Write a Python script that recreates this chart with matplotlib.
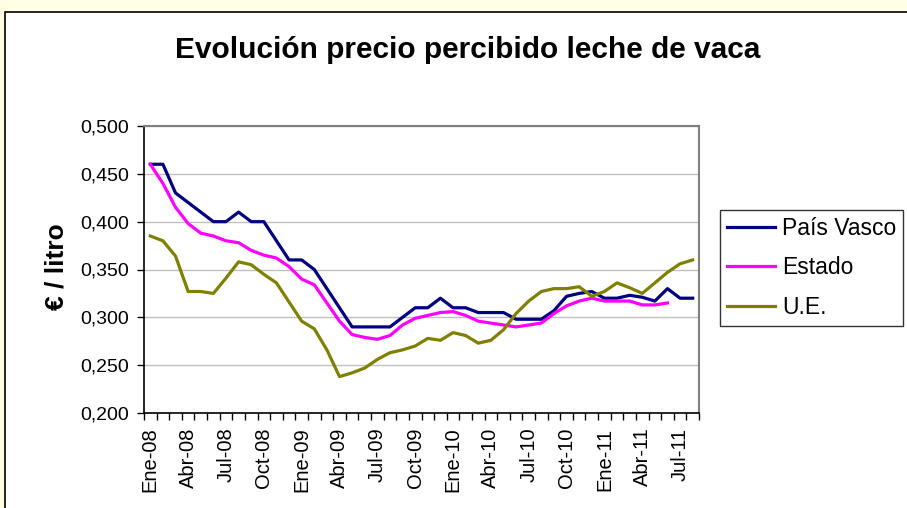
import matplotlib
matplotlib.use("Agg")
import matplotlib.pyplot as plt
from matplotlib.patches import Rectangle

plt.rcParams['font.family'] = ['Liberation Sans', 'DejaVu Sans']

# meses Ene-08 .. Ago-11
meses = ['Ene', 'Feb', 'Mar', 'Abr', 'May', 'Jun',
         'Jul', 'Ago', 'Sep', 'Oct', 'Nov', 'Dic']
anios = ['08', '09', '10', '11']
n_meses = 44

pais_vasco = [0.460, 0.460, 0.430, 0.420, 0.410, 0.400, 0.400, 0.410, 0.400, 0.400, 0.380, 0.360,
              0.360, 0.350, 0.330, 0.310, 0.290, 0.290, 0.290, 0.290, 0.300, 0.310, 0.310, 0.320,
              0.310, 0.310, 0.305, 0.305, 0.305, 0.298, 0.298, 0.298, 0.307, 0.322, 0.325,
              0.327, 0.320, 0.320, 0.323, 0.321, 0.317, 0.330, 0.320, 0.320]
estado = [0.460, 0.440, 0.415, 0.398, 0.388, 0.385, 0.380, 0.378, 0.370, 0.365, 0.362, 0.353,
          0.340, 0.334, 0.315, 0.296, 0.282, 0.279, 0.277, 0.281, 0.292, 0.299, 0.302, 0.305,
          0.306, 0.302, 0.296, 0.294, 0.292, 0.290, 0.292, 0.294, 0.304, 0.312, 0.317,
          0.320, 0.317, 0.317, 0.317, 0.313, 0.313, 0.315]
ue = [0.385, 0.380, 0.364, 0.327, 0.327, 0.325, 0.341, 0.358, 0.355, 0.345, 0.336, 0.316,
      0.296, 0.288, 0.266, 0.238, 0.242, 0.247, 0.256, 0.263, 0.266, 0.270, 0.278, 0.276,
      0.284, 0.281, 0.273, 0.276, 0.287, 0.304, 0.317, 0.327, 0.330, 0.330, 0.332,
      0.322, 0.327, 0.336, 0.331, 0.325, 0.336, 0.347, 0.356, 0.360]

etiquetas = [meses[i % 12] + '-' + anios[i // 12] for i in range(n_meses)]

W, H = 907, 508
fig = plt.figure(figsize=(W / 100, H / 100), dpi=100)
fig.patch.set_facecolor('#FFFFE3')

# area del grafico (blanca, borde negro)
fig.patches.append(Rectangle((5 / W, -0.1), 1.2, 1.1 - 12 / H, transform=fig.transFigure,
                             facecolor='white', edgecolor='black', linewidth=1.2,
                             clip_on=False, zorder=-10))

ax = fig.add_axes([144 / W, 1 - 413 / H, (699 - 144) / W, (413 - 126) / H])
ax.set_facecolor('white')

x = list(range(n_meses))
ax.plot(x, pais_vasco, color='#000080', lw=2.3, label='País Vasco')
ax.plot(x[:len(estado)], estado, color='#FF00FF', lw=2.3, label='Estado')
ax.plot(x, ue, color='#808000', lw=2.3, label='U.E.')

ax.set_xlim(-0.5, n_meses - 0.5)
ax.set_ylim(0.2, 0.5)
yt = [0.2, 0.25, 0.3, 0.35, 0.4, 0.45, 0.5]
ax.set_yticks(yt)
ax.set_yticklabels([('%.3f' % v).replace('.', ',') for v in yt], fontsize=14)
ax.yaxis.grid(True, color='#C0C0C0', lw=1)
ax.set_axisbelow(True)
ax.tick_params(axis='y', direction='out', length=5, width=1, pad=6, color='black')

# marcas entre categorias, etiquetas cada 3 meses
ax.set_xticks([i - 0.5 for i in range(n_meses + 1)])
ax.set_xticklabels([])
ax.set_xticks(x[::3], minor=True)
ax.set_xticklabels(etiquetas[::3], minor=True, rotation=90, fontsize=14.5)
ax.tick_params(axis='x', which='major', direction='out', length=5, width=1, color='black')
ax.tick_params(axis='x', which='minor', length=0, pad=10.5)

for s in ['left', 'bottom']:
    ax.spines[s].set_color('black')
    ax.spines[s].set_linewidth(1.2)
for s in ['top', 'right']:
    ax.spines[s].set_color('#808080')
    ax.spines[s].set_linewidth(1.5)

fig.text(468 / W, 1 - 50 / H, 'Evolución precio percibido leche de vaca',
         ha='center', va='center', fontsize=21.5, fontweight='bold')
fig.text(57 / W, 1 - 267 / H, '€ / litro', rotation=90, ha='center', va='center',
         fontsize=19, fontweight='bold')

leg = fig.legend(loc='upper left', bbox_to_anchor=(720 / W, 1 - 210 / H),
                 fontsize=16.5, frameon=True, fancybox=False, handlelength=2.1,
                 handletextpad=0.3, borderpad=0.3, labelspacing=0.72,
                 borderaxespad=0)
leg.get_frame().set_edgecolor('black')
leg.get_frame().set_linewidth(1)

fig.savefig('out.png', dpi=100, facecolor=fig.get_facecolor())
